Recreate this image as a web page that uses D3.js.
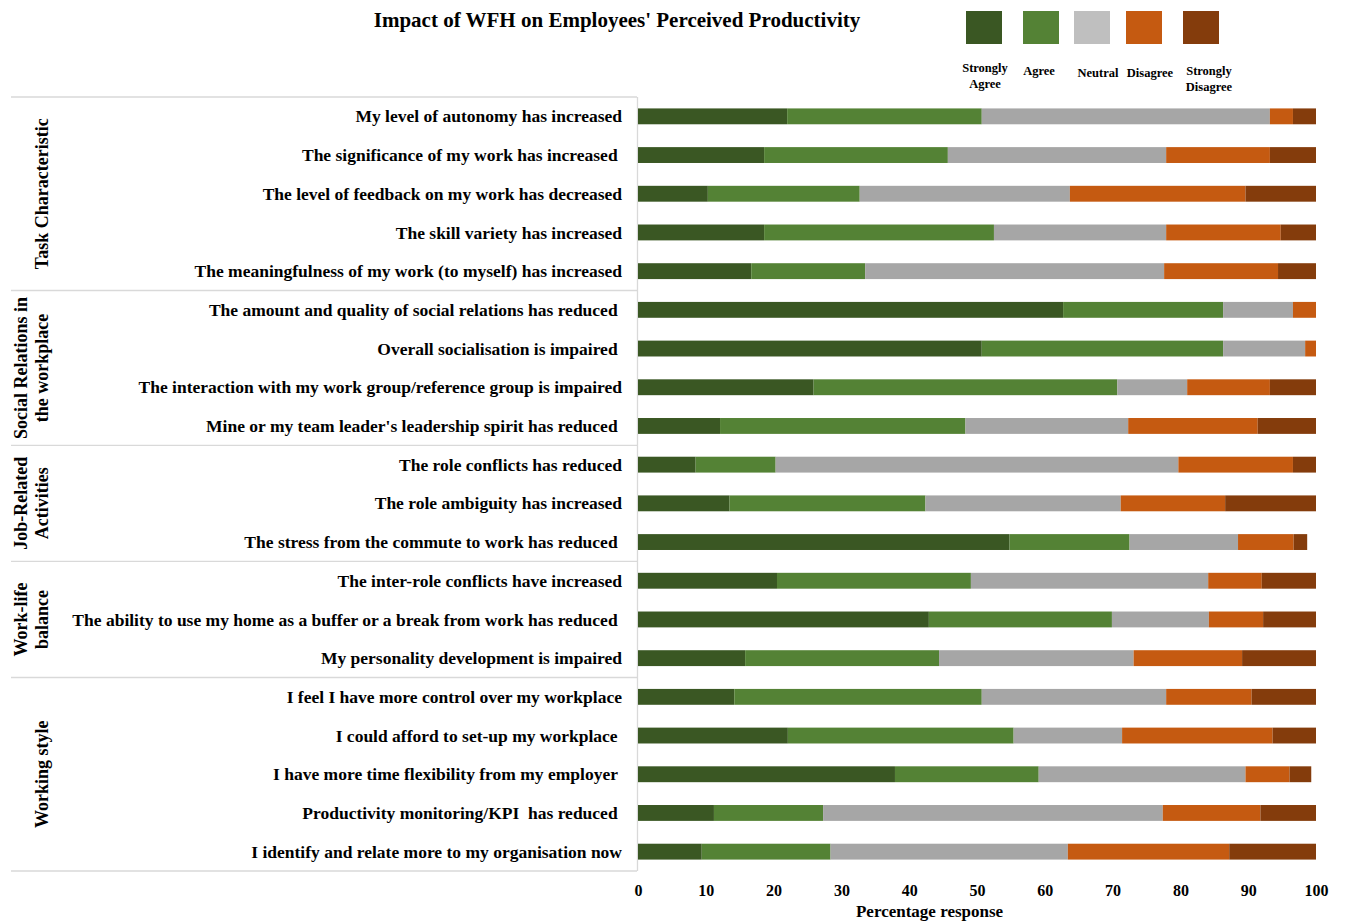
<!DOCTYPE html>
<html>
<head>
<meta charset="utf-8">
<script src="https://cdn.jsdelivr.net/npm/d3@7"></script>
<style>
  body { margin: 0; background: #fff; }
  text { font-family: "Liberation Serif", "Times New Roman", serif; font-weight: bold; fill: #000; white-space: pre; }
</style>
</head>
<body>
<div id="chart"></div>
<script>
// statements, top to bottom (trailing spaces kept as in the source)
var statements = [
  "My level of autonomy has increased",
  "The significance of my work has increased ",
  "The level of feedback on my work has decreased",
  "The skill variety has increased",
  "The meaningfulness of my work (to myself) has increased",
  "The amount and quality of social relations has reduced ",
  "Overall socialisation is impaired ",
  "The interaction with my work group/reference group is impaired",
  "Mine or my team leader's leadership spirit has reduced ",
  "The role conflicts has reduced",
  "The role ambiguity has increased",
  "The stress from the commute to work has reduced ",
  "The inter-role conflicts have increased",
  "The ability to use my home as a buffer or a break from work has reduced ",
  "My personality development is impaired",
  "I feel I have more control over my workplace",
  "I could afford to set-up my workplace ",
  "I have more time flexibility from my employer ",
  "Productivity monitoring/KPI  has reduced ",
  "I identify and relate more to my organisation now"
];

// group names and how many statements each covers
var groupNames = [["Task Characteristic"], ["Social Relations in", "the workplace"], ["Job-Related", "Activities"], ["Work-life", "balance"], ["Working style"]];
var groupSizes = [5, 4, 3, 3, 5];

var responses = ["Strongly Agree", "Agree", "Neutral", "Disagree", "Strongly Disagree"];

// percentage per response, same order as statements
var stronglyAgree    = [22.0, 18.6, 10.3, 18.6, 16.7, 62.7, 50.7, 25.9, 12.1, 8.5, 13.5, 54.8, 20.5, 42.9, 15.8, 14.2, 22.1, 37.9, 11.2, 9.4];
var agree            = [28.7, 27.1, 22.4, 33.9, 16.8, 23.6, 35.6, 44.8, 36.2, 11.8, 28.9, 17.7, 28.6, 27.0, 28.6, 36.5, 33.3, 21.2, 16.1, 19.0];
var neutral          = [42.5, 32.2, 31.0, 25.4, 44.1, 10.3, 12.1, 10.3, 24.0, 59.4, 28.8, 16.0, 35.0, 14.3, 28.7, 27.2, 16.0, 30.5, 50.1, 35.0];
var disagree         = [3.4, 15.3, 25.9, 16.9, 16.8, 3.4, 1.6, 12.2, 19.1, 16.9, 15.4, 8.2, 7.9, 8.0, 16.0, 12.6, 22.2, 6.5, 14.4, 23.8];
var stronglyDisagree = [3.4, 6.8, 10.4, 5.2, 5.6, 0, 0, 6.8, 8.6, 3.4, 13.4, 2.0, 8.0, 7.8, 10.9, 9.5, 6.4, 3.2, 8.2, 12.8];

var xTicks = [0, 10, 20, 30, 40, 50, 60, 70, 80, 90, 100];

var barColors = ["#3a5723", "#548235", "#a6a6a6", "#c55a11", "#843c0c"];
var legendColors = ["#3a5723", "#548235", "#bfbfbf", "#c55a11", "#843c0c"];

var svgWidth = 1347, svgHeight = 922;
var margin = {top: 97, right: 31, bottom: 51, left: 638};
var width = svgWidth - margin.left - margin.right;
var height = svgHeight - margin.top - margin.bottom;

var svg = d3.select("#chart").append("svg")
  .attr("width", svgWidth)
  .attr("height", svgHeight);

// build stack table
var table = statements.map(function(s, i) {
  return {
    statement: s,
    "Strongly Agree": stronglyAgree[i],
    "Agree": agree[i],
    "Neutral": neutral[i],
    "Disagree": disagree[i],
    "Strongly Disagree": stronglyDisagree[i]
  };
});
var series = d3.stack().keys(responses)(table);

var x = d3.scaleLinear().domain([0, 100]).range([0, width]);
var y = d3.scaleBand().domain(statements).range([0, height]).paddingInner(0.59).paddingOuter(0.295);

var g = svg.append("g").attr("transform", `translate(${margin.left}, ${margin.top})`);

// the grid on the left (group rows)
var lineColor = "#d9d9d9";
var tableLeft = 11 - margin.left;
var step = y.step();
var start = 0;
var boundaries = [0];
groupSizes.forEach(function(n) { start += n; boundaries.push(start); });

boundaries.forEach(function(b) {
  g.append("line")
    .attr("x1", tableLeft).attr("x2", -1)
    .attr("y1", b * step).attr("y2", b * step)
    .attr("stroke", lineColor).attr("stroke-width", 1.3);
});
g.append("line")
  .attr("x1", -0.5).attr("x2", -0.5)
  .attr("y1", 0).attr("y2", height)
  .attr("stroke", lineColor).attr("stroke-width", 1.3);

// group labels, rotated
groupNames.forEach(function(lines, i) {
  var cy = (boundaries[i] + boundaries[i + 1]) / 2 * step;
  var lineX = lines.length == 1 ? [42 - margin.left + 6] : [21 - margin.left + 6, 42 - margin.left + 6];
  lines.forEach(function(t, j) {
    g.append("text")
      .attr("transform", `translate(${lineX[j]}, ${cy}) rotate(-90)`)
      .attr("text-anchor", "middle")
      .style("font-size", "18px")
      .text(t);
  });
});

// statement labels
g.selectAll(".stmt")
  .data(statements)
  .enter()
  .append("text")
  .attr("class", "stmt")
  .attr("x", -16)
  .attr("y", d => y(d) + y.bandwidth() / 2)
  .attr("dy", "0.35em")
  .attr("text-anchor", "end")
  .style("font-size", "17.5px")
  .text(d => d);

// bars
g.selectAll(".layer")
  .data(series)
  .enter()
  .append("g")
  .attr("class", "layer")
  .attr("fill", (d, i) => barColors[i])
  .selectAll("rect")
  .data(d => d)
  .enter()
  .append("rect")
  .attr("x", d => x(d[0]))
  .attr("y", d => y(d.data.statement))
  .attr("width", d => x(d[1]) - x(d[0]))
  .attr("height", y.bandwidth());

// x axis
var xAxis = g.append("g")
  .attr("transform", `translate(0, ${height})`)
  .call(d3.axisBottom(x).tickValues(xTicks).tickSize(0).tickPadding(14));
xAxis.select(".domain").remove();
xAxis.selectAll("text")
  .style("font-size", "16px")
  .style("font-family", "Liberation Serif, serif")
  .style("font-weight", "bold");

g.append("text")
  .attr("x", x(43))
  .attr("y", height + 46)
  .attr("text-anchor", "middle")
  .style("font-size", "17px")
  .text("Percentage response");

// title
svg.append("text")
  .attr("x", 617)
  .attr("y", 27)
  .attr("text-anchor", "middle")
  .style("font-size", "21px")
  .text("Impact of WFH on Employees' Perceived Productivity");

// legend
var legendX = [966, 1023, 1074, 1126, 1183];
var legendLabelX = [985, 1039, 1098, 1150, 1209];
var legendLabels = [["Strongly", "Agree"], ["Agree"], ["Neutral"], ["Disagree"], ["Strongly", "Disagree"]];
var legendLabelY = [[72, 88], [75], [77], [77], [75, 91]];

var legend = svg.append("g");
responses.forEach(function(r, i) {
  legend.append("rect")
    .attr("x", legendX[i])
    .attr("y", 11)
    .attr("width", 36)
    .attr("height", 33)
    .attr("fill", legendColors[i]);
  legendLabels[i].forEach(function(t, j) {
    legend.append("text")
      .attr("x", legendLabelX[i])
      .attr("y", legendLabelY[i][j])
      .attr("text-anchor", "middle")
      .style("font-size", "12.5px")
      .text(t);
  });
});
</script>
</body>
</html>
